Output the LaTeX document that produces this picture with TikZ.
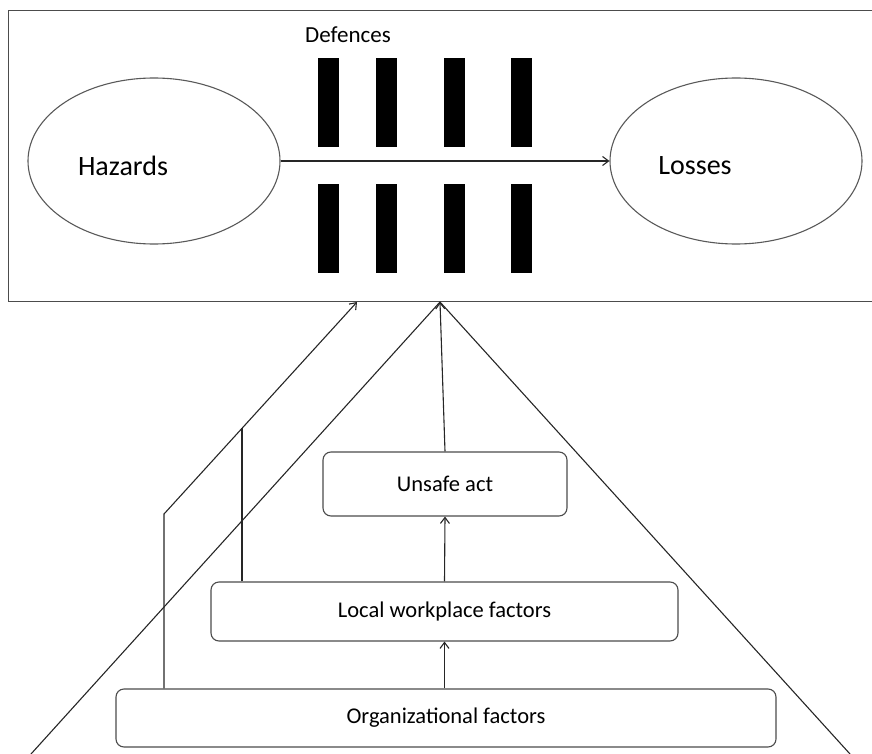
\documentclass[tikz,border=0pt]{standalone}
\usepackage{fontspec}
\setmainfont{Carlito}
\usetikzlibrary{shapes.geometric,arrows.meta,calc}

\tikzset{
  ln/.style={draw=black!85, line width=1.1pt},
  arr/.style={ln, -{Straight Barb[length=6pt,width=9pt]}},
  oval/.style={ellipse, draw=black!65, line width=1.1pt, minimum width=252pt, minimum height=166pt, inner sep=0pt},
  bar/.style={fill=black, draw=none, minimum width=21pt, minimum height=89pt, inner sep=0pt},
  factor/.style={draw=black!70, line width=1.1pt, rounded corners=8pt, inner sep=0pt,
                 font=\fontsize{22.5}{26}\selectfont},
  big/.style={font=\fontsize{28}{32}\selectfont},
}

\begin{document}
\begin{tikzpicture}[x=1pt,y=-1pt]
\useasboundingbox (0,0) rectangle (872,754);

% upper panel
\node[draw=black!70, line width=1.1pt, anchor=north west, minimum width=880pt, minimum height=291pt, inner sep=0pt] (frame) at (8,10) {};

\node[oval] (haz) at (154,161) {};
\node[big] (hazlbl) at (123,166) {Hazards};
\node[oval] (loss) at (736,161) {};
\node[big] (losslbl) at (695,166) {Losses};

\node[font=\fontsize{23}{26}\selectfont] (def) at (348,35) {Defences};

\foreach \i/\x in {1/328.5, 2/386.5, 3/454, 4/521.5}{
  \node[bar] (top\i) at (\x,102.5) {};
  \node[bar] (bot\i) at (\x,228.5) {};
}

\draw[arr] (haz.east) -- (loss.west);

% lower pyramid
\coordinate (apex) at (440,302);
\coordinate (pl) at (31,754);
\coordinate (pr) at (850,754);
\draw[ln] (pl) -- (apex) -- (pr);

\node[factor, minimum width=244pt, minimum height=64pt] (unsafe) at (445,484) {Unsafe act};
\node[factor, minimum width=467pt, minimum height=59pt] (local) at (444.5,611.5) {Local workplace factors};
\node[factor, minimum width=660pt, minimum height=58pt] (org) at (446,718) {Organizational factors};

\draw[arr] (unsafe.north) -- (apex);
\draw[arr] (local.north) -- (unsafe.south);
\draw[arr] (org.north -| local.south) -- (local.south);

\coordinate (bend) at (164,514);
\coordinate (tipL) at (357,302);
\coordinate (join) at ($(bend)!{(242-164)/(357-164)}!(tipL)$);
\draw[arr] (org.north -| bend) -- (bend) -- (tipL);
\draw[ln] (local.north -| join) -- (join);
\end{tikzpicture}
\end{document}
